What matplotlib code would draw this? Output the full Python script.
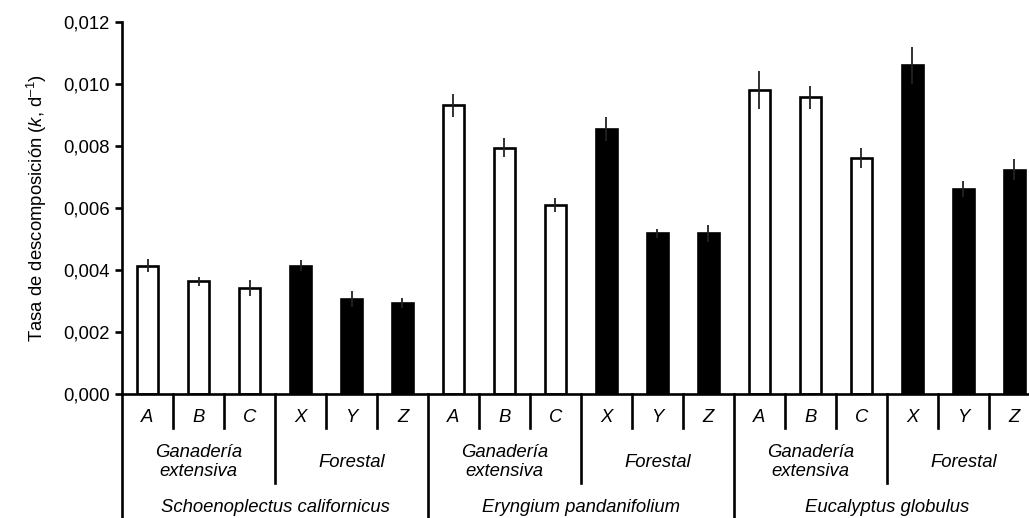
import matplotlib
matplotlib.use("Agg")
import numpy as np
import matplotlib.pyplot as plt
from matplotlib.ticker import FuncFormatter

plt.rcParams['font.family'] = ['Liberation Sans', 'DejaVu Sans']
plt.rcParams['mathtext.fontset'] = 'custom'
plt.rcParams['mathtext.rm'] = 'Liberation Sans'
plt.rcParams['mathtext.it'] = 'Liberation Sans:italic'

# datos: tasa de descomposición (k) y error estándar
especies = ["Schoenoplectus californicus", "Eryngium pandanifolium", "Eucalyptus globulus"]
usos = ["Ganadería\nextensiva", "Forestal"]
sitios = ["A", "B", "C", "X", "Y", "Z"]

k_schoenoplectus = [0.00414, 0.00364, 0.00342, 0.00414, 0.00307, 0.00293]
k_eryngium = [0.00931, 0.00795, 0.00610, 0.00855, 0.00518, 0.00518]
k_eucalyptus = [0.00981, 0.00958, 0.00762, 0.01061, 0.00661, 0.00724]

ee_schoenoplectus = [0.00020, 0.00015, 0.00026, 0.00018, 0.00025, 0.00016]
ee_eryngium = [0.00038, 0.00030, 0.00022, 0.00038, 0.00015, 0.00028]
ee_eucalyptus = [0.00060, 0.00037, 0.00033, 0.00060, 0.00027, 0.00033]

k = k_schoenoplectus + k_eryngium + k_eucalyptus
ee = ee_schoenoplectus + ee_eryngium + ee_eucalyptus
n = len(k)
x = np.arange(n)
colores = ["white" if (i % 6) < 3 else "black" for i in range(n)]

fs = 13.3

fig = plt.figure(figsize=(10.29, 5.18), dpi=100)
ax = fig.add_axes([0.1186, 0.2394, 0.892, 0.718])

ax.bar(x, k, width=0.41, color=colores, edgecolor="black", linewidth=1.9, zorder=2)
ax.errorbar(x, k, yerr=ee, fmt="none", ecolor="#222222", elinewidth=1.3,
            capsize=0, zorder=3)

ax.set_xlim(-0.5, n - 0.5)
ax.set_ylim(0, 0.012)
ax.set_yticks(np.arange(0, 0.0121, 0.002))
ax.yaxis.set_major_formatter(FuncFormatter(lambda v, p: f"{v:.3f}".replace(".", ",")))
ax.tick_params(axis="y", direction="out", length=5, width=1.9, labelsize=fs, pad=4)
ax.set_xticks([])
for s in ["top", "right"]:
    ax.spines[s].set_visible(False)
ax.spines["left"].set_linewidth(1.9)
ax.spines["bottom"].set_linewidth(1.9)
ax.set_ylabel(r"Tasa de descomposición ($\mathit{k}$, d$^{\mathrm{–1}}$)",
              fontsize=fs, labelpad=10)

# tabla de categorías bajo el eje
tr = ax.get_xaxis_transform()
fila1, fila2, fila3 = -0.0914, -0.239, -0.34
ax.plot([-0.5, -0.5], [0, fila3], color="black", lw=1.9, transform=tr, clip_on=False)
for i in range(n - 1):
    xs = i + 0.5
    if (i + 1) % 6 == 0:
        fondo = fila3
    elif (i + 1) % 3 == 0:
        fondo = fila2
    else:
        fondo = fila1
    ax.plot([xs, xs], [0, fondo], color="black", lw=1.9, transform=tr, clip_on=False)

for i in range(n):
    ax.text(i, -0.062, sitios[i % 6], transform=tr, ha="center", va="center",
            fontsize=fs, style="italic")
for g in range(6):
    ax.text(g * 3 + 1, -0.183, usos[g % 2], transform=tr, ha="center", va="center",
            fontsize=fs, style="italic", linespacing=1.15)
for e in range(3):
    ax.text(e * 6 + 2.5, -0.304, especies[e], transform=tr, ha="center", va="center",
            fontsize=fs, style="italic")

fig.savefig("out.png", dpi=100)
